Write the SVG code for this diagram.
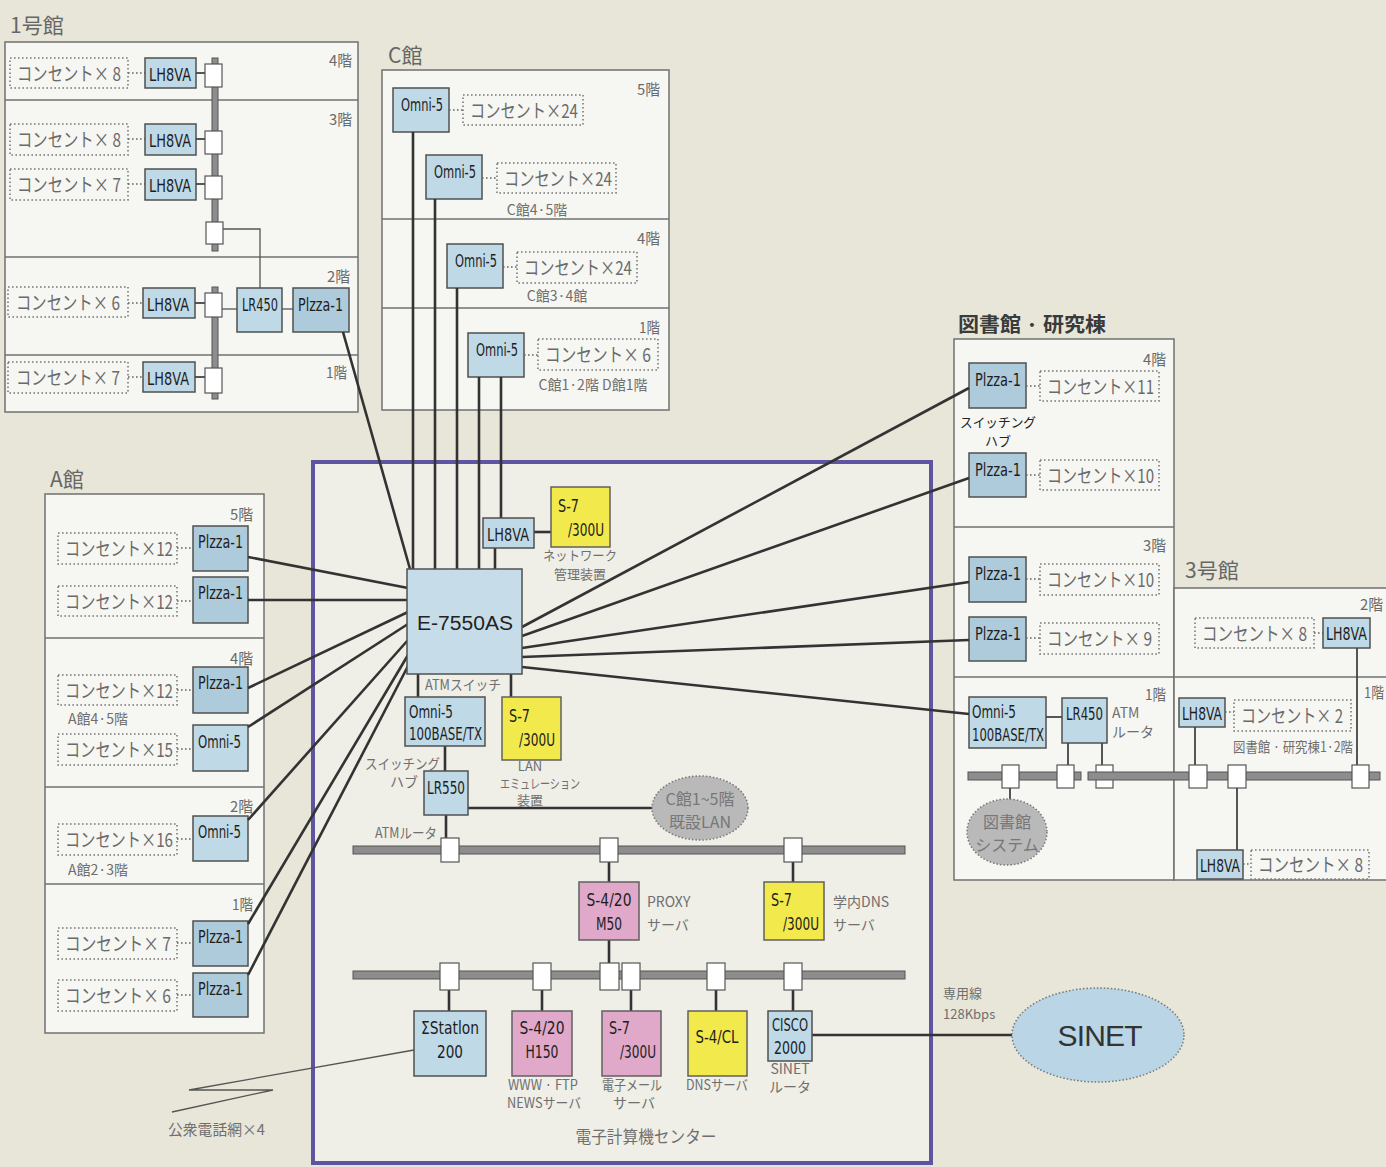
<svg xmlns="http://www.w3.org/2000/svg" width="1386" height="1167" viewBox="0 0 1386 1167">
<style>
.bld{fill:#f6f6f2;stroke:#707070;stroke-width:1.5}
.dv{stroke:#707070;stroke-width:1.5;fill:none}
.b{fill:#bfd9e7;stroke:#505050;stroke-width:1.5}
.bp{fill:#aecbdc;stroke:#505050;stroke-width:1.5}
.y{fill:#f2ea4c;stroke:#606060;stroke-width:1.5}
.p{fill:#e0a9ca;stroke:#606060;stroke-width:1.5}
.c{fill:none;stroke:#7a7a7a;stroke-width:1.6;stroke-dasharray:1.6 2.4}
.d{stroke:#666;stroke-width:1.4;stroke-dasharray:1.6 2.4;fill:none}
.bus{fill:#8d8d8d;stroke:#555;stroke-width:1}
.tap{fill:#fff;stroke:#555;stroke-width:1.2}
.w{stroke:#333;stroke-width:2.6;fill:none}
.s{stroke:#444;stroke-width:1.8;fill:none}
.thin{stroke:#555;stroke-width:1.3;fill:none}
.cl{fill:#b9b9b9;stroke:#777;stroke-width:1.5;stroke-dasharray:1.5 2}
.t{font-family:'Liberation Sans Narrow','DejaVu Sans Condensed','Liberation Sans',sans-serif;font-size:17px;fill:#1e1e1e}
.j{font-family:'Noto Sans CJK JP',sans-serif;font-size:19px;fill:#6a6a6a}
.f{font-family:'Noto Sans CJK JP',sans-serif;font-size:15px;fill:#6a6a6a;text-anchor:end}
.cap{font-family:'Noto Sans CJK JP',sans-serif;font-size:14px;fill:#6f6f6f}
.h{font-family:'Noto Sans CJK JP',sans-serif;font-size:21px;fill:#666}
.m{text-anchor:middle}
</style>
<rect x="0" y="0" width="1386" height="1167" fill="#e7e6d9"/>

<!-- 1号館 -->
<g id="bldg1">
<text class="h" x="10" y="33">1号館</text>
<rect class="bld" x="5" y="42" width="353" height="370"/>
<line class="dv" x1="5" y1="100" x2="358" y2="100"/>
<line class="dv" x1="5" y1="257" x2="358" y2="257"/>
<line class="dv" x1="5" y1="355" x2="358" y2="355"/>
<text class="f" x="352" y="66" textLength="23" lengthAdjust="spacingAndGlyphs">4階</text>
<text class="f" x="352" y="125" textLength="23" lengthAdjust="spacingAndGlyphs">3階</text>
<text class="f" x="350" y="282" textLength="23" lengthAdjust="spacingAndGlyphs">2階</text>
<text class="f" x="347" y="378" textLength="21" lengthAdjust="spacingAndGlyphs">1階</text>
<rect class="bus" x="212" y="58" width="6" height="193"/>
<rect class="bus" x="212" y="287" width="6" height="112"/>
<rect class="c" x="10" y="58" width="118" height="30"/><text class="j" x="17" y="81" textLength="104" lengthAdjust="spacingAndGlyphs">コンセント× 8</text>
<line class="d" x1="128" y1="73" x2="145" y2="73"/>
<rect class="b" x="145" y="58" width="51" height="30"/><text class="t" x="149" y="81" textLength="42" lengthAdjust="spacingAndGlyphs">LH8VA</text>
<line class="s" x1="196" y1="73" x2="205" y2="73"/><rect class="tap" x="205" y="64" width="17" height="23"/>
<rect class="c" x="10" y="124" width="118" height="31"/><text class="j" x="17" y="147" textLength="104" lengthAdjust="spacingAndGlyphs">コンセント× 8</text>
<line class="d" x1="128" y1="139" x2="145" y2="139"/>
<rect class="b" x="145" y="124" width="51" height="31"/><text class="t" x="149" y="147" textLength="42" lengthAdjust="spacingAndGlyphs">LH8VA</text>
<line class="s" x1="196" y1="139" x2="205" y2="139"/><rect class="tap" x="205" y="131" width="17" height="23"/>
<rect class="c" x="10" y="169" width="118" height="31"/><text class="j" x="17" y="192" textLength="104" lengthAdjust="spacingAndGlyphs">コンセント× 7</text>
<line class="d" x1="128" y1="184" x2="145" y2="184"/>
<rect class="b" x="145" y="169" width="51" height="31"/><text class="t" x="149" y="192" textLength="42" lengthAdjust="spacingAndGlyphs">LH8VA</text>
<line class="s" x1="196" y1="184" x2="205" y2="184"/><rect class="tap" x="205" y="176" width="17" height="23"/>
<rect class="tap" x="206" y="222" width="17" height="22"/>
<polyline class="thin" points="223,229 260,229 260,288"/>
<rect class="c" x="8" y="287" width="120" height="30"/><text class="j" x="16" y="310" textLength="104" lengthAdjust="spacingAndGlyphs">コンセント× 6</text>
<line class="d" x1="128" y1="303" x2="143" y2="303"/>
<rect class="b" x="143" y="288" width="52" height="30"/><text class="t" x="147" y="311" textLength="42" lengthAdjust="spacingAndGlyphs">LH8VA</text>
<line class="s" x1="195" y1="303" x2="205" y2="303"/><rect class="tap" x="205" y="293" width="17" height="24"/>
<line class="thin" x1="222" y1="309" x2="237" y2="309"/>
<rect class="b" x="237" y="288" width="45" height="44"/><text class="t" x="242" y="311" textLength="36" lengthAdjust="spacingAndGlyphs">LR450</text>
<line class="thin" x1="282" y1="309" x2="293" y2="309"/>
<rect class="bp" x="293" y="288" width="56" height="44"/><text class="t" x="298" y="311" textLength="45" lengthAdjust="spacingAndGlyphs">Plzza-1</text>
<rect class="c" x="8" y="362" width="120" height="31"/><text class="j" x="16" y="385" textLength="104" lengthAdjust="spacingAndGlyphs">コンセント× 7</text>
<line class="d" x1="128" y1="377" x2="143" y2="377"/>
<rect class="b" x="143" y="362" width="52" height="30"/><text class="t" x="147" y="385" textLength="42" lengthAdjust="spacingAndGlyphs">LH8VA</text>
<line class="s" x1="195" y1="377" x2="205" y2="377"/><rect class="tap" x="205" y="368" width="17" height="25"/>
</g>

<!-- C館 -->
<g id="bldgC">
<text class="h" x="388" y="63">C館</text>
<rect class="bld" x="382" y="70" width="287" height="340"/>
<line class="dv" x1="382" y1="219" x2="669" y2="219"/>
<line class="dv" x1="382" y1="308" x2="669" y2="308"/>
<text class="f" x="660" y="95" textLength="23" lengthAdjust="spacingAndGlyphs">5階</text>
<text class="f" x="660" y="244" textLength="23" lengthAdjust="spacingAndGlyphs">4階</text>
<text class="f" x="660" y="333" textLength="21" lengthAdjust="spacingAndGlyphs">1階</text>
<rect class="b" x="393" y="88" width="56" height="44"/><text class="t" x="401" y="111" textLength="42" lengthAdjust="spacingAndGlyphs">Omni-5</text>
<line class="d" x1="449" y1="110" x2="463" y2="110"/>
<rect class="c" x="463" y="95" width="120" height="30"/><text class="j" x="470" y="118" textLength="108" lengthAdjust="spacingAndGlyphs">コンセント×24</text>
<rect class="b" x="426" y="155" width="56" height="44"/><text class="t" x="434" y="178" textLength="42" lengthAdjust="spacingAndGlyphs">Omni-5</text>
<line class="d" x1="482" y1="178" x2="497" y2="178"/>
<rect class="c" x="497" y="163" width="119" height="30"/><text class="j" x="504" y="186" textLength="108" lengthAdjust="spacingAndGlyphs">コンセント×24</text>
<text class="cap m" x="537" y="215">C館4·5階</text>
<rect class="b" x="447" y="244" width="56" height="44"/><text class="t" x="455" y="267" textLength="42" lengthAdjust="spacingAndGlyphs">Omni-5</text>
<line class="d" x1="503" y1="267" x2="517" y2="267"/>
<rect class="c" x="517" y="252" width="120" height="31"/><text class="j" x="524" y="275" textLength="108" lengthAdjust="spacingAndGlyphs">コンセント×24</text>
<text class="cap m" x="557" y="301">C館3·4館</text>
<rect class="b" x="468" y="333" width="56" height="44"/><text class="t" x="476" y="356" textLength="42" lengthAdjust="spacingAndGlyphs">Omni-5</text>
<line class="d" x1="524" y1="355" x2="538" y2="355"/>
<rect class="c" x="538" y="339" width="120" height="31"/><text class="j" x="545" y="362" textLength="106" lengthAdjust="spacingAndGlyphs">コンセント× 6</text>
<text class="cap m" x="593" y="390">C館1·2階 D館1階</text>
</g>

<!-- A館 -->
<g id="bldgA">
<text class="h" x="50" y="487">A館</text>
<rect class="bld" x="45" y="494" width="219" height="539"/>
<line class="dv" x1="45" y1="638" x2="264" y2="638"/>
<line class="dv" x1="45" y1="787" x2="264" y2="787"/>
<line class="dv" x1="45" y1="884" x2="264" y2="884"/>
<text class="f" x="253" y="520" textLength="23" lengthAdjust="spacingAndGlyphs">5階</text>
<text class="f" x="253" y="664" textLength="23" lengthAdjust="spacingAndGlyphs">4階</text>
<text class="f" x="253" y="812" textLength="23" lengthAdjust="spacingAndGlyphs">2階</text>
<text class="f" x="253" y="910" textLength="21" lengthAdjust="spacingAndGlyphs">1階</text>
<rect class="c" x="58" y="533" width="119" height="31"/><text class="j" x="65" y="556" textLength="108" lengthAdjust="spacingAndGlyphs">コンセント×12</text>
<line class="d" x1="177" y1="548" x2="193" y2="548"/>
<rect class="bp" x="193" y="526" width="55" height="45"/><text class="t" x="198" y="548" textLength="45" lengthAdjust="spacingAndGlyphs">Plzza-1</text>
<rect class="c" x="58" y="586" width="119" height="30"/><text class="j" x="65" y="609" textLength="108" lengthAdjust="spacingAndGlyphs">コンセント×12</text>
<line class="d" x1="177" y1="601" x2="193" y2="601"/>
<rect class="bp" x="193" y="577" width="55" height="46"/><text class="t" x="198" y="599" textLength="45" lengthAdjust="spacingAndGlyphs">Plzza-1</text>
<rect class="c" x="58" y="675" width="119" height="30"/><text class="j" x="65" y="698" textLength="108" lengthAdjust="spacingAndGlyphs">コンセント×12</text>
<line class="d" x1="177" y1="690" x2="193" y2="690"/>
<rect class="bp" x="193" y="667" width="55" height="46"/><text class="t" x="198" y="689" textLength="45" lengthAdjust="spacingAndGlyphs">Plzza-1</text>
<text class="cap" x="68" y="724">A館4·5階</text>
<rect class="c" x="58" y="734" width="119" height="31"/><text class="j" x="65" y="757" textLength="108" lengthAdjust="spacingAndGlyphs">コンセント×15</text>
<line class="d" x1="177" y1="749" x2="193" y2="749"/>
<rect class="b" x="193" y="725" width="55" height="46"/><text class="t" x="198" y="748" textLength="43" lengthAdjust="spacingAndGlyphs">Omni-5</text>
<rect class="c" x="58" y="824" width="119" height="31"/><text class="j" x="65" y="847" textLength="108" lengthAdjust="spacingAndGlyphs">コンセント×16</text>
<line class="d" x1="177" y1="839" x2="193" y2="839"/>
<rect class="b" x="193" y="816" width="55" height="45"/><text class="t" x="198" y="838" textLength="43" lengthAdjust="spacingAndGlyphs">Omni-5</text>
<text class="cap" x="68" y="875">A館2·3階</text>
<rect class="c" x="58" y="928" width="119" height="31"/><text class="j" x="65" y="951" textLength="106" lengthAdjust="spacingAndGlyphs">コンセント× 7</text>
<line class="d" x1="177" y1="943" x2="193" y2="943"/>
<rect class="bp" x="193" y="921" width="55" height="45"/><text class="t" x="198" y="943" textLength="45" lengthAdjust="spacingAndGlyphs">Plzza-1</text>
<rect class="c" x="58" y="980" width="119" height="31"/><text class="j" x="65" y="1003" textLength="106" lengthAdjust="spacingAndGlyphs">コンセント× 6</text>
<line class="d" x1="177" y1="995" x2="193" y2="995"/>
<rect class="bp" x="193" y="973" width="55" height="44"/><text class="t" x="198" y="995" textLength="45" lengthAdjust="spacingAndGlyphs">Plzza-1</text>
</g>

<!-- 図書館・研究棟 -->
<g id="library">
<text x="958" y="332" style="font-family:'Noto Sans CJK JP',sans-serif;font-size:20px;font-weight:bold;fill:#3a3a3a" textLength="148" lengthAdjust="spacingAndGlyphs">図書館 · 研究棟</text>
<rect class="bld" x="954" y="339" width="220" height="541"/>
<line class="dv" x1="954" y1="527" x2="1174" y2="527"/>
<line class="dv" x1="954" y1="677" x2="1174" y2="677"/>
<text class="f" x="1166" y="365" textLength="23" lengthAdjust="spacingAndGlyphs">4階</text>
<text class="f" x="1166" y="551" textLength="23" lengthAdjust="spacingAndGlyphs">3階</text>
<text class="f" x="1166" y="700" textLength="21" lengthAdjust="spacingAndGlyphs">1階</text>
<rect class="bp" x="969" y="363" width="57" height="45"/><text class="t" x="975" y="386" textLength="46" lengthAdjust="spacingAndGlyphs">Plzza-1</text>
<line class="d" x1="1026" y1="386" x2="1040" y2="386"/>
<rect class="c" x="1040" y="371" width="119" height="30"/><text class="j" x="1047" y="394" textLength="107" lengthAdjust="spacingAndGlyphs">コンセント×11</text>
<text class="m" x="998" y="427" style="font-family:'Noto Sans CJK JP',sans-serif;font-size:13px;fill:#222" textLength="76" lengthAdjust="spacingAndGlyphs">スイッチング</text>
<text class="m" x="998" y="446" style="font-family:'Noto Sans CJK JP',sans-serif;font-size:13px;fill:#222">ハブ</text>
<rect class="bp" x="969" y="453" width="57" height="44"/><text class="t" x="975" y="476" textLength="46" lengthAdjust="spacingAndGlyphs">Plzza-1</text>
<line class="d" x1="1026" y1="475" x2="1040" y2="475"/>
<rect class="c" x="1040" y="460" width="119" height="30"/><text class="j" x="1047" y="483" textLength="107" lengthAdjust="spacingAndGlyphs">コンセント×10</text>
<rect class="bp" x="969" y="557" width="57" height="45"/><text class="t" x="975" y="580" textLength="46" lengthAdjust="spacingAndGlyphs">Plzza-1</text>
<line class="d" x1="1026" y1="579" x2="1040" y2="579"/>
<rect class="c" x="1040" y="564" width="119" height="31"/><text class="j" x="1047" y="587" textLength="107" lengthAdjust="spacingAndGlyphs">コンセント×10</text>
<rect class="bp" x="969" y="617" width="57" height="44"/><text class="t" x="975" y="640" textLength="46" lengthAdjust="spacingAndGlyphs">Plzza-1</text>
<line class="d" x1="1026" y1="638" x2="1040" y2="638"/>
<rect class="c" x="1040" y="623" width="119" height="31"/><text class="j" x="1047" y="646" textLength="105" lengthAdjust="spacingAndGlyphs">コンセント× 9</text>
<rect class="bus" x="968" y="772" width="113" height="8"/>
<rect class="b" x="969" y="697" width="77" height="51"/>
<text class="t" x="972" y="718" textLength="44" lengthAdjust="spacingAndGlyphs">Omni-5</text>
<text class="t" x="972" y="741" textLength="72" lengthAdjust="spacingAndGlyphs">100BASE/TX</text>
<line class="s" x1="1046" y1="717" x2="1062" y2="717"/>
<rect class="b" x="1062" y="698" width="45" height="45"/><text class="t" x="1066" y="720" textLength="37" lengthAdjust="spacingAndGlyphs">LR450</text>
<text class="cap" x="1112" y="718">ATM</text>
<text class="cap" x="1112" y="737">ルータ</text>
<line class="s" x1="1068" y1="743" x2="1068" y2="765"/>
<line class="s" x1="1102" y1="743" x2="1102" y2="765"/>
<rect class="tap" x="1002" y="765" width="17" height="23"/>
<rect class="tap" x="1057" y="765" width="17" height="23"/>
<rect class="tap" x="1096" y="765" width="17" height="23"/>
<line class="s" x1="1010" y1="788" x2="1010" y2="800"/>
<ellipse class="cl" cx="1007" cy="832" rx="40" ry="33"/>
<text class="cap m" x="1007" y="828" style="font-size:16px;fill:#777">図書館</text>
<text class="cap m" x="1007" y="851" style="font-size:16px;fill:#777">システム</text>
</g>

<!-- 3号館 -->
<g id="bldg3">
<text class="h" x="1185" y="578">3号館</text>
<rect class="bld" x="1174" y="588" width="220" height="292"/>
<line class="dv" x1="1174" y1="677" x2="1386" y2="677"/>
<text class="f" x="1383" y="610" textLength="23" lengthAdjust="spacingAndGlyphs">2階</text>
<text class="f" x="1384" y="698" textLength="20" lengthAdjust="spacingAndGlyphs">1階</text>
<rect class="c" x="1195" y="618" width="119" height="30"/><text class="j" x="1202" y="641" textLength="105" lengthAdjust="spacingAndGlyphs">コンセント× 8</text>
<line class="d" x1="1314" y1="633" x2="1323" y2="633"/>
<rect class="b" x="1323" y="618" width="47" height="30"/><text class="t" x="1326" y="640" textLength="41" lengthAdjust="spacingAndGlyphs">LH8VA</text>
<line class="s" x1="1357" y1="648" x2="1357" y2="765"/>
<rect class="b" x="1179" y="698" width="46" height="29"/><text class="t" x="1182" y="720" textLength="40" lengthAdjust="spacingAndGlyphs">LH8VA</text>
<line class="d" x1="1225" y1="712" x2="1234" y2="712"/>
<rect class="c" x="1234" y="700" width="117" height="31"/><text class="j" x="1241" y="723" textLength="102" lengthAdjust="spacingAndGlyphs">コンセント× 2</text>
<text class="cap" x="1233" y="752" textLength="120" lengthAdjust="spacingAndGlyphs">図書館 · 研究棟1·2階</text>
<rect class="bus" x="1088" y="772" width="292" height="8"/>
<line class="s" x1="1195" y1="727" x2="1195" y2="765"/>
<rect class="tap" x="1189" y="765" width="18" height="23"/>
<rect class="tap" x="1228" y="765" width="18" height="23"/>
<rect class="tap" x="1352" y="765" width="17" height="23"/>
<line class="s" x1="1237" y1="788" x2="1237" y2="850"/>
<rect class="b" x="1197" y="850" width="46" height="29"/><text class="t" x="1200" y="872" textLength="40" lengthAdjust="spacingAndGlyphs">LH8VA</text>
<line class="d" x1="1243" y1="864" x2="1251" y2="864"/>
<rect class="c" x="1251" y="850" width="118" height="29"/><text class="j" x="1258" y="872" textLength="105" lengthAdjust="spacingAndGlyphs">コンセント× 8</text>
</g>

<!-- 電子計算機センター -->
<g id="center">
<rect x="313" y="462" width="618" height="701" fill="#efeee7" stroke="#5e55a2" stroke-width="4"/>
<text class="cap m" x="646" y="1143" style="font-size:17px" textLength="141" lengthAdjust="spacingAndGlyphs">電子計算機センター</text>
</g>

<!-- connectors -->
<g id="connectors">
<line class="w" x1="413" y1="132" x2="413" y2="569"/>
<line class="w" x1="435" y1="199" x2="435" y2="569"/>
<line class="w" x1="457" y1="288" x2="457" y2="569"/>
<line class="w" x1="479" y1="377" x2="479" y2="569"/>
<line class="w" x1="501" y1="377" x2="501" y2="518"/>
<line class="w" x1="495" y1="548" x2="495" y2="569"/>
<line class="w" x1="534" y1="532" x2="551" y2="532"/>
<line class="w" x1="343" y1="332" x2="410" y2="569"/>
<line class="w" x1="248" y1="557" x2="408" y2="588"/>
<line class="w" x1="248" y1="600" x2="408" y2="600"/>
<line class="w" x1="248" y1="688" x2="408" y2="612"/>
<line class="w" x1="248" y1="727" x2="408" y2="624"/>
<line class="w" x1="248" y1="820" x2="408" y2="640"/>
<line class="w" x1="248" y1="924" x2="408" y2="655"/>
<line class="w" x1="248" y1="975" x2="408" y2="666"/>
<line class="w" x1="522" y1="627" x2="969" y2="388"/>
<line class="w" x1="522" y1="636" x2="969" y2="478"/>
<line class="w" x1="522" y1="648" x2="969" y2="582"/>
<line class="w" x1="522" y1="657" x2="969" y2="640"/>
<line class="w" x1="522" y1="667" x2="969" y2="714"/>
<line class="w" x1="418" y1="674" x2="418" y2="697"/>
<line class="w" x1="511" y1="674" x2="511" y2="697"/>
<line class="w" x1="445" y1="746" x2="445" y2="771"/>
<line class="w" x1="446" y1="815" x2="446" y2="838"/>
<line class="w" x1="468" y1="808" x2="653" y2="808"/>
<line class="w" x1="609" y1="862" x2="609" y2="882"/>
<line class="w" x1="793" y1="862" x2="793" y2="882"/>
<line class="w" x1="609" y1="940" x2="609" y2="963"/>
<line class="w" x1="449" y1="990" x2="449" y2="1011"/>
<line class="w" x1="542" y1="990" x2="542" y2="1011"/>
<line class="w" x1="631" y1="990" x2="631" y2="1011"/>
<line class="w" x1="716" y1="990" x2="716" y2="1011"/>
<line class="w" x1="793" y1="990" x2="793" y2="1011"/>
<line class="w" x1="812" y1="1035" x2="1012" y2="1035"/>
<polyline class="thin" points="414,1050 189,1090 273,1090 172,1112"/>
</g>

<!-- center devices -->
<g id="lh8va-c"><rect class="b" x="483" y="518" width="51" height="30"/><text class="t" x="487" y="541" textLength="42" lengthAdjust="spacingAndGlyphs">LH8VA</text></g>
<g id="s7-nm"><rect class="y" x="551" y="487" width="59" height="60"/><text class="t" x="558" y="512" textLength="21" lengthAdjust="spacingAndGlyphs">S-7</text><text class="t" x="604" y="536" text-anchor="end" textLength="36" lengthAdjust="spacingAndGlyphs">/300U</text>
<text class="cap m" x="580" y="560" style="font-size:13px" textLength="74" lengthAdjust="spacingAndGlyphs">ネットワーク</text><text class="cap m" x="580" y="579" style="font-size:13px">管理装置</text></g>
<g id="e7550"><rect x="407" y="569" width="115" height="105" fill="#c6dde9" stroke="#505050" stroke-width="1.5"/>
<text class="m" x="465" y="630" style="font-family:'Liberation Sans',sans-serif;font-size:20px;fill:#222" textLength="96" lengthAdjust="spacingAndGlyphs">E-7550AS</text>
<text class="cap m" x="463" y="690" textLength="76" lengthAdjust="spacingAndGlyphs">ATMスイッチ</text></g>
<g id="omni-c"><rect class="b" x="405" y="697" width="80" height="49"/><text class="t" x="409" y="718" textLength="44" lengthAdjust="spacingAndGlyphs">Omni-5</text><text class="t" x="409" y="740" textLength="73" lengthAdjust="spacingAndGlyphs">100BASE/TX</text>
<text class="cap" x="365" y="769" textLength="75" lengthAdjust="spacingAndGlyphs">スイッチング</text><text class="cap" x="390" y="787">ハブ</text></g>
<g id="s7-lan"><rect class="y" x="502" y="697" width="59" height="63"/><text class="t" x="509" y="722" textLength="21" lengthAdjust="spacingAndGlyphs">S-7</text><text class="t" x="555" y="746" text-anchor="end" textLength="36" lengthAdjust="spacingAndGlyphs">/300U</text>
<text class="cap m" x="530" y="771" style="font-size:13px">LAN</text><text class="cap" x="500" y="788" style="font-size:13px" textLength="80" lengthAdjust="spacingAndGlyphs">エミュレーション</text><text class="cap m" x="530" y="805" style="font-size:13px">装置</text></g>
<g id="lr550"><rect class="b" x="424" y="771" width="44" height="44"/><text class="t" x="427" y="794" textLength="38" lengthAdjust="spacingAndGlyphs">LR550</text>
<text class="cap" x="375" y="838" textLength="62" lengthAdjust="spacingAndGlyphs">ATMルータ</text></g>
<g id="clan"><ellipse class="cl" cx="700" cy="808" rx="48" ry="32"/><text class="cap m" x="700" y="805" style="font-size:16px;fill:#777">C館1~5階</text><text class="cap m" x="700" y="828" style="font-size:16px;fill:#777">既設LAN</text></g>
<g id="bus1"><rect class="bus" x="353" y="846" width="552" height="8"/>
<rect class="tap" x="441" y="838" width="18" height="24"/><rect class="tap" x="600" y="838" width="18" height="24"/><rect class="tap" x="784" y="838" width="18" height="24"/></g>
<g id="proxy"><rect class="p" x="579" y="882" width="60" height="58"/><text class="t m" x="609" y="906" textLength="45" lengthAdjust="spacingAndGlyphs">S-4/20</text><text class="t m" x="609" y="930" textLength="26" lengthAdjust="spacingAndGlyphs">M50</text>
<text class="cap" x="647" y="907">PROXY</text><text class="cap" x="647" y="930">サーバ</text></g>
<g id="dns1"><rect class="y" x="764" y="882" width="60" height="58"/><text class="t" x="771" y="906" textLength="21" lengthAdjust="spacingAndGlyphs">S-7</text><text class="t" x="819" y="930" text-anchor="end" textLength="36" lengthAdjust="spacingAndGlyphs">/300U</text>
<text class="cap" x="833" y="907">学内DNS</text><text class="cap" x="833" y="930">サーバ</text></g>
<g id="bus2"><rect class="bus" x="353" y="971" width="552" height="8"/>
<rect class="tap" x="440" y="963" width="19" height="27"/><rect class="tap" x="533" y="963" width="18" height="27"/><rect class="tap" x="600" y="963" width="19" height="27"/><rect class="tap" x="622" y="963" width="18" height="27"/><rect class="tap" x="707" y="963" width="18" height="27"/><rect class="tap" x="784" y="963" width="18" height="27"/></g>
<g id="sigma"><rect class="b" x="414" y="1011" width="72" height="65"/><text class="t m" x="450" y="1034" textLength="58" lengthAdjust="spacingAndGlyphs">ΣStatlon</text><text class="t m" x="450" y="1058" textLength="26" lengthAdjust="spacingAndGlyphs">200</text></g>
<g id="www"><rect class="p" x="512" y="1011" width="60" height="65"/><text class="t m" x="542" y="1034" textLength="45" lengthAdjust="spacingAndGlyphs">S-4/20</text><text class="t m" x="542" y="1058" textLength="33" lengthAdjust="spacingAndGlyphs">H150</text>
<text class="cap m" x="543" y="1090" textLength="70" lengthAdjust="spacingAndGlyphs">WWW · FTP</text><text class="cap m" x="544" y="1108" textLength="74" lengthAdjust="spacingAndGlyphs">NEWSサーバ</text></g>
<g id="mail"><rect class="p" x="602" y="1011" width="59" height="65"/><text class="t" x="609" y="1034" textLength="21" lengthAdjust="spacingAndGlyphs">S-7</text><text class="t" x="656" y="1058" text-anchor="end" textLength="36" lengthAdjust="spacingAndGlyphs">/300U</text>
<text class="cap m" x="632" y="1090" textLength="60" lengthAdjust="spacingAndGlyphs">電子メール</text><text class="cap m" x="634" y="1108">サーバ</text></g>
<g id="dns2"><rect class="y" x="688" y="1011" width="59" height="65"/><text class="t m" x="717" y="1043" textLength="43" lengthAdjust="spacingAndGlyphs">S-4/CL</text>
<text class="cap m" x="717" y="1090" textLength="62" lengthAdjust="spacingAndGlyphs">DNSサーバ</text></g>
<g id="cisco"><rect class="b" x="768" y="1011" width="44" height="50"/><text class="t m" x="790" y="1031" textLength="36" lengthAdjust="spacingAndGlyphs">CISCO</text><text class="t m" x="790" y="1054" textLength="32" lengthAdjust="spacingAndGlyphs">2000</text>
<text class="cap m" x="790" y="1074">SINET</text><text class="cap m" x="790" y="1092">ルータ</text></g>
<g id="sinet"><ellipse cx="1098" cy="1035" rx="86" ry="47" fill="#b9d5e6" stroke="#777" stroke-width="1.5" stroke-dasharray="1.5 2"/>
<text class="m" x="1100" y="1046" style="font-family:'Liberation Sans',sans-serif;font-size:30px;fill:#333" textLength="85" lengthAdjust="spacing">SINET</text>
<text class="cap" x="943" y="998" style="font-size:13px">専用線</text><text class="cap" x="943" y="1019" style="font-size:13px">128Kbps</text></g>
<g id="pstn"><text class="cap" x="168" y="1135" style="font-size:15px" textLength="97" lengthAdjust="spacingAndGlyphs">公衆電話網×4</text></g>
</svg>
